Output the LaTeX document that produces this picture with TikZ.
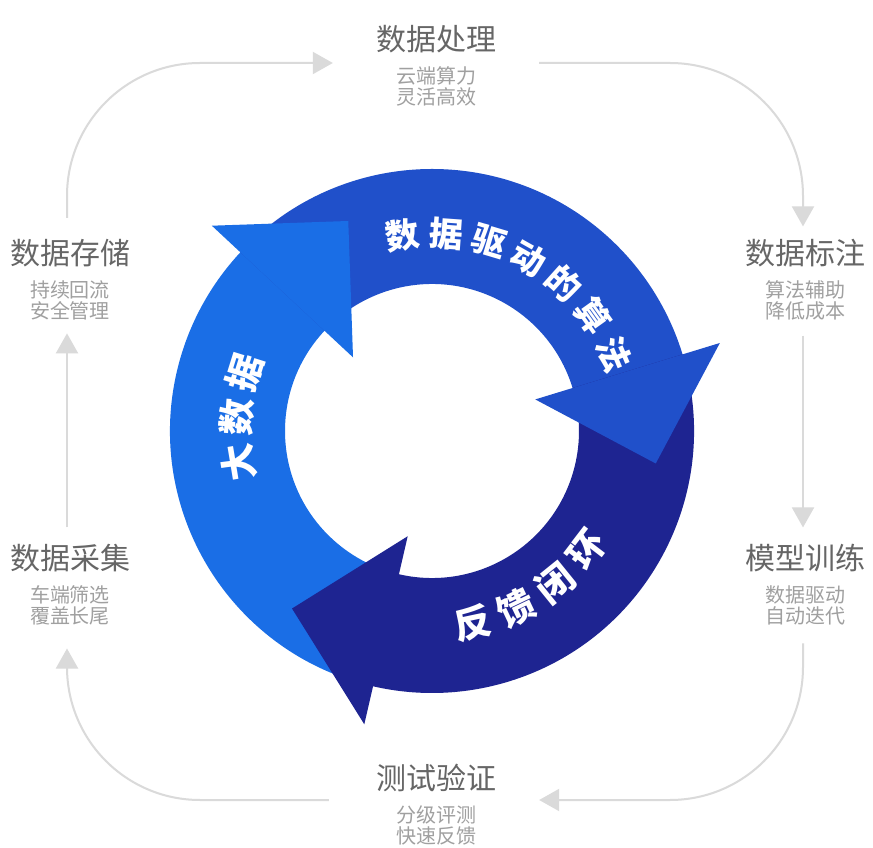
\documentclass[tikz,border=0pt]{standalone}
\usepackage{fontspec}
\setmainfont{Noto Sans CJK SC}
\usetikzlibrary{arrows.meta,positioning}
\definecolor{ringlight}{RGB}{26,110,230}
\definecolor{ringmid}{RGB}{32,80,202}
\definecolor{ringdark}{RGB}{30,36,145}
\definecolor{titlegray}{RGB}{102,102,102}
\definecolor{subgray}{RGB}{160,160,160}
\definecolor{loopgray}{RGB}{218,218,218}

\begin{document}
\begin{tikzpicture}[
    x=1pt,y=1pt,
    ttl/.style={font=\fontsize{30}{34}\selectfont,text=titlegray,inner sep=0pt},
    subtxt/.style={font=\fontsize{20}{21}\selectfont,text=subgray,align=center,inner sep=0pt},
    cycleflow/.style={-{Triangle[length=20pt,width=22pt]},draw=loopgray,line width=2pt,rounded corners=133pt},
    ringtxt/.style={font=\bfseries\fontsize{37}{37}\selectfont,text=white,inner sep=0pt},
    algtxt/.style={ringtxt,font=\bfseries\fontsize{34}{34}\selectfont}
  ]
    \useasboundingbox[fill=white] (0,0) rectangle (873,847);
    % ring
    \begin{scope}[shift={(432,416)}]
      \fill[ringlight] (257:262) arc[start angle=257,end angle=136,radius=262] -- (136:147) arc[start angle=136,end angle=257,radius=147] -- cycle;
      \fill[ringmid] (137:262) arc[start angle=137,end angle=16,radius=262] -- (16:147) arc[start angle=16,end angle=137,radius=147] -- cycle;
      \fill[ringdark] (17:262) arc[start angle=17,end angle=-104,radius=262] -- (-104:147) arc[start angle=-104,end angle=17,radius=147] -- cycle;
      \fill[ringlight] (137:301) -- (111.74:226.1) -- (137:108) -- cycle;
      \fill[ringmid] (17:301) -- (-8.26:226.1) -- (17:108) -- cycle;
      \fill[ringdark] (257:301) -- (231.74:226.1) -- (257:108) -- cycle;
      \node[ringtxt,rotate=99.4] (big1) at (189.4:196) {大};
      \node[ringtxt,rotate=86] (big2) at (176:196) {数};
      \node[ringtxt,rotate=72.6] (big3) at (162.6:196) {据};
      \node[algtxt,rotate=8.5] (alg1) at (98.5:198) {数};
      \node[algtxt,rotate=-4.1] (alg2) at (85.9:198) {据};
      \node[algtxt,rotate=-16.7] (alg3) at (73.3:198) {驱};
      \node[algtxt,rotate=-29.3] (alg4) at (60.7:198) {动};
      \node[algtxt,rotate=-41.9] (alg5) at (48.1:198) {的};
      \node[algtxt,rotate=-54.5] (alg6) at (35.5:198) {算};
      \node[algtxt,rotate=-67.1] (alg7) at (22.9:198) {法};
      \node[ringtxt,rotate=12] (fb1) at (-78:196) {反};
      \node[ringtxt,rotate=25.5] (fb2) at (-64.5:196) {馈};
      \node[ringtxt,rotate=39] (fb3) at (-51:196) {闭};
      \node[ringtxt,rotate=52.5] (fb4) at (-37.5:196) {环};
    \end{scope}
    % stages
    \node[ttl] (proc) at (436,808) {数据处理};
    \node[subtxt,below=13.5pt of proc] (procsub) {云端算力\\灵活高效};
    \node[ttl] (label) at (805,594) {数据标注};
    \node[subtxt,below=13.5pt of label] (labelsub) {算法辅助\\降低成本};
    \node[ttl] (train) at (805,289) {模型训练};
    \node[subtxt,below=13.5pt of train] (trainsub) {数据驱动\\自动迭代};
    \node[ttl] (test) at (436,69) {测试验证};
    \node[subtxt,below=13.5pt of test] (testsub) {分级评测\\快速反馈};
    \node[ttl] (collect) at (70,289) {数据采集};
    \node[subtxt,below=13.5pt of collect] (collectsub) {车端筛选\\覆盖长尾};
    \node[ttl] (store) at (70,594) {数据存储};
    \node[subtxt,below=13.5pt of store] (storesub) {持续回流\\安全管理};
    \draw[cycleflow] ([xshift=-3pt,yshift=21pt]store.north) |- ([xshift=-43pt,yshift=-24pt]proc.west);
    \draw[cycleflow] ([xshift=43pt,yshift=-24pt]proc.east) -| ([xshift=-2pt,yshift=12.5pt]label.north);
    \draw[cycleflow] ([xshift=-2pt,yshift=-15pt]labelsub.south) -- ([xshift=-2pt,yshift=16.5pt]train.north);
    \draw[cycleflow] ([xshift=-2pt,yshift=-18pt]trainsub.south) |- ([xshift=43pt,yshift=-22pt]test.east);
    \draw[cycleflow] ([xshift=-47pt,yshift=-22pt]test.west) -| ([xshift=-3pt,yshift=-23pt]collectsub.south);
    \draw[cycleflow] ([xshift=-3pt,yshift=16.5pt]collect.north) -- ([xshift=-3pt,yshift=-13pt]storesub.south);
  \end{tikzpicture}
\end{document}
